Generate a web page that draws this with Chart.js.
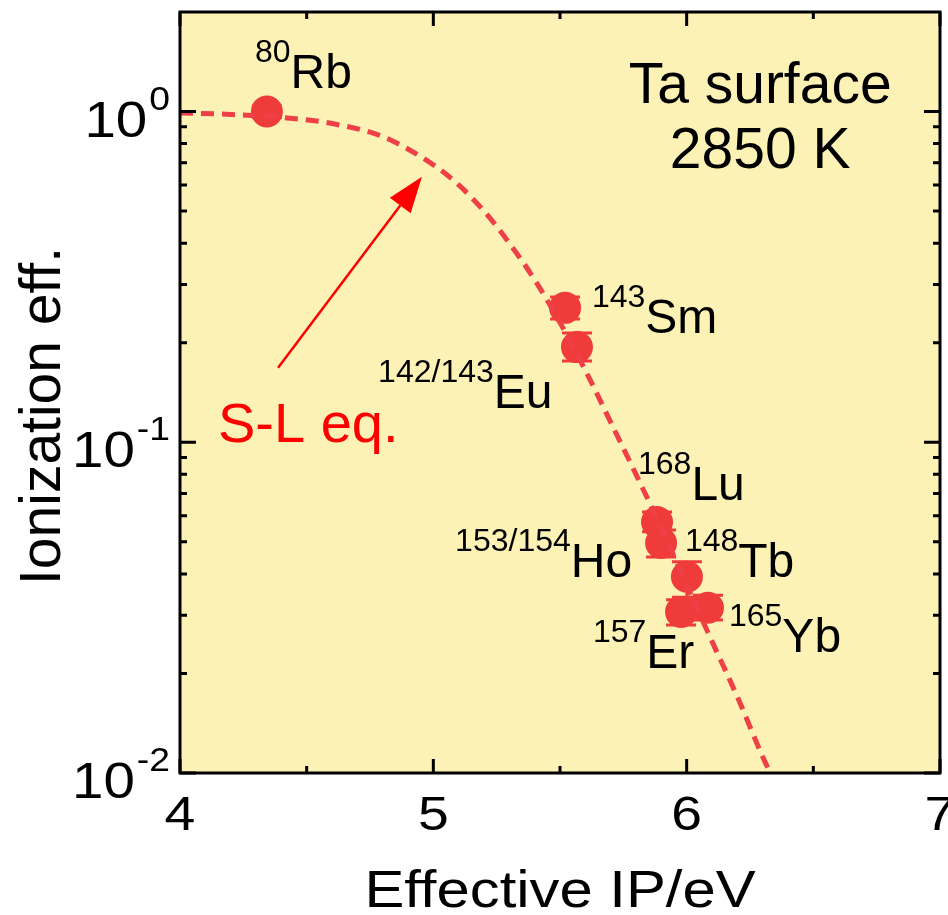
<!DOCTYPE html>
<html>
<head>
<meta charset="utf-8">
<script src="https://cdn.jsdelivr.net/npm/chart.js@4/dist/chart.umd.min.js"></script>
<style>
html,body{margin:0;padding:0;background:#fff;}
#wrap{width:948px;height:915px;position:relative;}
</style>
</head>
<body>
<div id="wrap"><canvas id="c" width="948" height="915"></canvas></div>
<script>
// ---- data ----
const massNumbers = ['80','143','142/143','168','153/154','148','157','165'];
const elements    = ['Rb','Sm','Eu','Lu','Ho','Tb','Er','Yb'];
const ipEff   = [4.343, 5.520, 5.567, 5.883, 5.899, 6.001, 5.978, 6.084];
const ionEff  = [1.00, 0.255, 0.194, 0.0574, 0.0496, 0.0392, 0.0307, 0.0316];
const errLow  = [0.96, 0.236, 0.176, 0.0536, 0.0450, 0.0340, 0.0280, 0.0290];
const errHigh = [1.04, 0.275, 0.214, 0.0615, 0.0543, 0.0435, 0.0334, 0.0345];
// label anchors (data coords: left of mass number, baseline of symbol)
const labelX = [4.296, 5.626, 4.782, 5.808, 5.086, 5.993, 5.630, 6.167];
const labelY = [1.179, 0.214, 0.127, 0.0669, 0.0392, 0.0392, 0.0208, 0.0232];

// S-L equation curve
const curveX = [4.0, 4.2, 4.4, 4.6, 4.8, 5.0, 5.1, 5.2, 5.3, 5.4, 5.5, 5.6, 5.7, 5.8, 5.9, 6.0, 6.1, 6.2, 6.3, 6.33];
const curveY = [0.99, 0.98, 0.96, 0.92, 0.84, 0.69, 0.60, 0.50, 0.40, 0.31, 0.23, 0.165, 0.115, 0.080, 0.055, 0.037, 0.025, 0.017, 0.0112, 0.0100];

// arrow (tail -> tip), data coords
const arrowX = [4.387, 4.955];
const arrowY = [0.168, 0.635];

// texts
const boxTitle = ['Ta surface', '2850 K'];
const boxX = 6.29;
const boxY = [1.062, 0.675];
const eqLabel = 'S-L eq.';
const eqX = 4.15, eqY = 0.100;

// axes / ticks
const xMin = 4, xMax = 7, yMin = 0.01, yMax = 2;
const xMajor = [4, 5, 6, 7];
const xMinor = [4.5, 5.5, 6.5];
const xTickLabels = ['4', '5', '6', '7'];
const yMajor = [0.01, 0.1, 1];
const yMinor = [0.02,0.03,0.04,0.05,0.06,0.07,0.08,0.09,0.2,0.3,0.4,0.5,0.6,0.7,0.8,0.9];
const yTickBase = ['10', '10', '10'];
const yTickExp = ['-2', '-1', '0'];
const xTitle = 'Effective IP/eV';
const yTitle = 'Ionization eff.';

// ---- drawing helpers ----
const FONT = '"Liberation Sans", Arial, Helvetica, sans-serif';
function txt(ctx, s, x, y, size, color, align, sx) {
  ctx.save();
  ctx.font = size + 'px ' + FONT;
  ctx.fillStyle = color || '#000';
  ctx.textAlign = align || 'left';
  ctx.textBaseline = 'alphabetic';
  ctx.translate(x, y);
  ctx.scale(sx || 1, 1);
  ctx.fillText(s, 0, 0);
  ctx.restore();
}
function tw(ctx, s, size, sx) {
  ctx.save(); ctx.font = size + 'px ' + FONT;
  const w = ctx.measureText(s).width * (sx || 1);
  ctx.restore(); return w;
}

const RED_PT = '#f03b3b';
const RED_LINE = '#ef3f47';

const bgPlugin = {
  id: 'bg',
  beforeDraw(chart) {
    const {ctx, chartArea: a} = chart;
    ctx.save();
    ctx.fillStyle = '#ffffff';
    ctx.fillRect(0, 0, chart.width, chart.height);
    ctx.fillStyle = '#fdf2b5';
    ctx.fillRect(a.left, a.top, a.right - a.left, a.bottom - a.top);
    ctx.restore();
  }
};

const errPlugin = {
  id: 'errbars',
  beforeDatasetDraw(chart, args) {
    if (args.index !== 1) return;
    const {ctx} = chart;
    const xs = chart.scales.x, ys = chart.scales.y;
    ctx.save();
    ctx.strokeStyle = RED_PT;
    ctx.lineWidth = 3;
    for (let i = 0; i < ipEff.length; i++) {
      const px = xs.getPixelForValue(ipEff[i]);
      const pl = ys.getPixelForValue(errLow[i]);
      const ph = ys.getPixelForValue(errHigh[i]);
      ctx.beginPath();
      ctx.moveTo(px, pl); ctx.lineTo(px, ph);
      ctx.moveTo(px - 15, pl); ctx.lineTo(px + 15, pl);
      ctx.moveTo(px - 15, ph); ctx.lineTo(px + 15, ph);
      ctx.stroke();
    }
    ctx.restore();
  }
};

const decoPlugin = {
  id: 'deco',
  afterDraw(chart) {
    const {ctx, chartArea: a} = chart;
    const xs = chart.scales.x, ys = chart.scales.y;
    const SX = 1.13;
    ctx.save();
    // ticks (inward, all four sides)
    ctx.strokeStyle = '#000';
    ctx.lineWidth = 3;
    ctx.beginPath();
    xMajor.forEach(v => {
      const p = xs.getPixelForValue(v);
      ctx.moveTo(p, a.bottom); ctx.lineTo(p, a.bottom - 14);
      ctx.moveTo(p, a.top); ctx.lineTo(p, a.top + 14);
    });
    xMinor.forEach(v => {
      const p = xs.getPixelForValue(v);
      ctx.moveTo(p, a.bottom); ctx.lineTo(p, a.bottom - 7);
      ctx.moveTo(p, a.top); ctx.lineTo(p, a.top + 7);
    });
    yMajor.forEach(v => {
      const p = ys.getPixelForValue(v);
      ctx.moveTo(a.left, p); ctx.lineTo(a.left + 16, p);
      ctx.moveTo(a.right, p); ctx.lineTo(a.right - 16, p);
    });
    yMinor.forEach(v => {
      const p = ys.getPixelForValue(v);
      ctx.moveTo(a.left, p); ctx.lineTo(a.left + 7, p);
      ctx.moveTo(a.right, p); ctx.lineTo(a.right - 7, p);
    });
    ctx.stroke();
    // frame
    ctx.lineWidth = 3;
    ctx.strokeRect(a.left, a.top, a.right - a.left, a.bottom - a.top);

    // x tick labels
    xMajor.forEach((v, i) => {
      txt(ctx, xTickLabels[i], xs.getPixelForValue(v), a.bottom + 57, 49, '#000', 'center', SX);
    });
    // y tick labels 10^n
    yMajor.forEach((v, i) => {
      const p = ys.getPixelForValue(v);
      const ew = tw(ctx, yTickExp[i], 33, SX);
      const ex = a.left - 10 - ew;
      txt(ctx, yTickExp[i], ex, p - 2, 33, '#000', 'left', SX);
      txt(ctx, yTickBase[i], ex - 2, p + 25, 50, '#000', 'right', SX);
    });
    // axis titles
    txt(ctx, xTitle, (a.left + a.right) / 2, 907, 52, '#000', 'center', 1.15);
    ctx.save();
    ctx.translate(60, 416);
    ctx.rotate(-Math.PI / 2);
    ctx.font = '57px ' + FONT;
    ctx.fillStyle = '#000';
    ctx.textAlign = 'center';
    ctx.textBaseline = 'alphabetic';
    ctx.fillText(yTitle, 0, 0);
    ctx.restore();

    // isotope labels
    for (let i = 0; i < elements.length; i++) {
      const lx = xs.getPixelForValue(labelX[i]);
      const ly = ys.getPixelForValue(labelY[i]);
      txt(ctx, massNumbers[i], lx, ly - 26, 32, '#000', 'left', 1);
      const w = tw(ctx, massNumbers[i], 32, 1);
      txt(ctx, elements[i], lx + w, ly, 48, '#000', 'left', 1);
    }
    // box text
    boxTitle.forEach((s, i) => {
      txt(ctx, s, xs.getPixelForValue(boxX), ys.getPixelForValue(boxY[i]), 57, '#000', 'center', 1);
    });
    // S-L eq label
    txt(ctx, eqLabel, xs.getPixelForValue(eqX), ys.getPixelForValue(eqY), 56, '#ff0000', 'left', 1);

    // arrow
    const x0 = xs.getPixelForValue(arrowX[0]), y0 = ys.getPixelForValue(arrowY[0]);
    const x1 = xs.getPixelForValue(arrowX[1]), y1 = ys.getPixelForValue(arrowY[1]);
    const ang = Math.atan2(y1 - y0, x1 - x0);
    const hl = 36, hw = 13;
    const bx = x1 - hl * Math.cos(ang), by = y1 - hl * Math.sin(ang);
    ctx.strokeStyle = '#ff0000';
    ctx.fillStyle = '#ff0000';
    ctx.lineWidth = 2.5;
    ctx.beginPath();
    ctx.moveTo(x0, y0); ctx.lineTo(bx, by);
    ctx.stroke();
    ctx.beginPath();
    ctx.moveTo(x1, y1);
    ctx.lineTo(bx + hw * Math.sin(ang), by - hw * Math.cos(ang));
    ctx.lineTo(bx - hw * Math.sin(ang), by + hw * Math.cos(ang));
    ctx.closePath();
    ctx.fill();
    ctx.restore();
  }
};

new Chart(document.getElementById('c'), {
  type: 'scatter',
  data: {
    datasets: [
      {
        label: 'S-L eq.',
        data: curveX.map((x, i) => ({x: x, y: curveY[i]})),
        showLine: true,
        borderColor: RED_LINE,
        borderWidth: 5,
        borderDash: [13, 8],
        borderCapStyle: 'butt',
        pointRadius: 0,
        cubicInterpolationMode: 'monotone',
        fill: false
      },
      {
        label: 'data',
        data: ipEff.map((x, i) => ({x: x, y: ionEff[i]})),
        showLine: false,
        pointRadius: 16,
        pointBackgroundColor: RED_PT,
        pointBorderColor: RED_PT,
        pointBorderWidth: 0
      }
    ]
  },
  options: {
    responsive: false,
    animation: false,
    layout: {autoPadding: false, padding: {left: 180, right: 8, top: 12, bottom: 142}},
    plugins: {legend: {display: false}, tooltip: {enabled: false}},
    scales: {
      x: {type: 'linear', min: xMin, max: xMax, display: false},
      y: {type: 'logarithmic', min: yMin, max: yMax, display: false}
    }
  },
  plugins: [bgPlugin, errPlugin, decoPlugin]
});
</script>
</body>
</html>
